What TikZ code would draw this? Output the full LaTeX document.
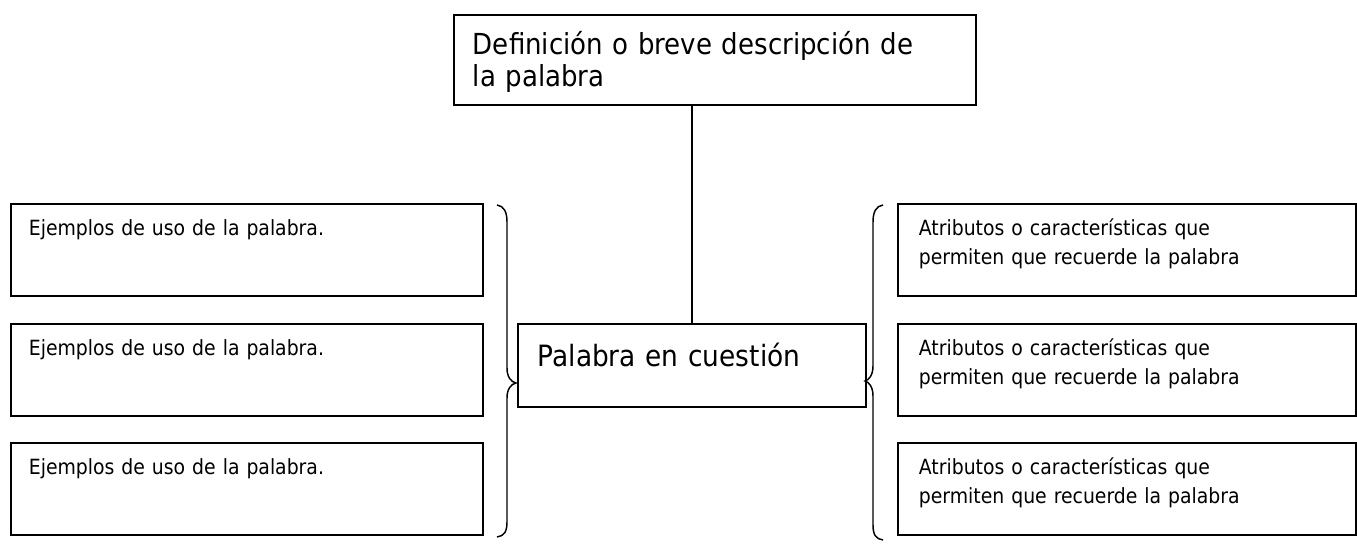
\documentclass[tikz,border=0pt]{standalone}
\usepackage{fontspec}
\setmainfont{DejaVu Sans Condensed}
\tikzset{every picture/.style={line width=0.75pt}}

\begin{document}
\begin{tikzpicture}[x=0.75pt,y=0.75pt,yscale=-1,xscale=1,
	caja/.style={draw, line width=1.4pt, anchor=north west, align=left, inner ysep=0pt},
	chica/.style={caja, text height=24pt, text depth=45pt, font=\fontsize{15.7}{21.75}\selectfont},
	grande/.style={caja, font=\fontsize{21.7}{24}\selectfont}]
	\useasboundingbox (0,0) rectangle (1357,548);
	
	%Definicion
	\node [grande, text width=363pt, inner xsep=14.25pt, text height=30pt, text depth=37.5pt] (def) at (453,14) {Definición o breve descripción de\\la palabra};
	%Palabra central
	\node [grande, font=\fontsize{22}{26}\selectfont, text width=231pt, inner xsep=15pt, text height=32.25pt, text depth=30pt] (pal) at (517,323) {Palabra en cuestión};
	\draw [line width=1.1pt] (pal.north) -- (pal.north |- def.south);
	
	%Ejemplos
	\node [chica, text width=327pt, inner xsep=13.5pt] (ej1) at (10,203) {Ejemplos de uso de la palabra.};
	\node [chica, text width=327pt, inner xsep=13.5pt] (ej2) at (10,323) {Ejemplos de uso de la palabra.};
	\node [chica, text width=327pt, inner xsep=13.5pt] (ej3) at (10,442) {Ejemplos de uso de la palabra.};
	
	%Atributos
	\node [chica, text width=312pt, inner xsep=15.75pt] (at1) at (897,203) {Atributos o características que\\permiten que recuerde la palabra};
	\node [chica, text width=312pt, inner xsep=15.75pt] (at2) at (897,323) {Atributos o características que\\permiten que recuerde la palabra};
	\node [chica, text width=312pt, inner xsep=15.75pt] (at3) at (897,442) {Atributos o características que\\permiten que recuerde la palabra};
	
	%Llaves
	\coordinate (llizq) at (516,383);
	\coordinate (llder) at (865,381);
	\draw [line width=1.1pt] (497,205) .. controls (504,206) and (507,212) .. (507,222) -- (507,368) .. controls (507,377) and (511,382) .. (llizq) .. controls (511,384) and (507,389) .. (507,398) -- (507,522) .. controls (507,532) and (504,536) .. (497,537) ;
	\draw [line width=1.1pt] (883,205) .. controls (876,206) and (873,212) .. (873,222) -- (873,366) .. controls (873,375) and (869,380) .. (llder) .. controls (869,382) and (873,387) .. (873,396) -- (873,525) .. controls (873,535) and (876,539) .. (883,540) ;
	
\end{tikzpicture}
\end{document}
